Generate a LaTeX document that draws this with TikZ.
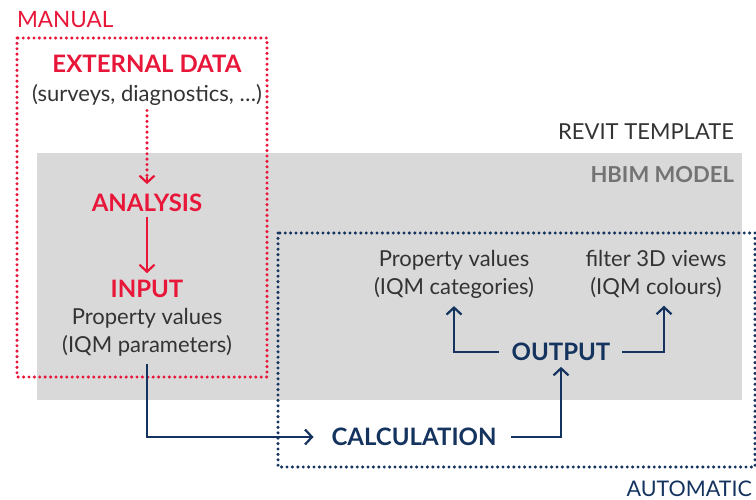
\documentclass[tikz,border=0pt]{standalone}
\usepackage{fontspec}
\setmainfont{Lato}
\usetikzlibrary{arrows.meta}
\definecolor{myred}{HTML}{E8173A}
\definecolor{navy}{HTML}{14335E}
\definecolor{panel}{HTML}{D9D9D9}
\definecolor{txt}{HTML}{333333}
\begin{document}
\begin{tikzpicture}[x=1pt,y=-1pt,
  every node/.style={inner sep=0pt, outer sep=0pt},
  lbl/.style={font=\fontsize{22}{28}\selectfont, text=txt, align=center},
  redbold/.style={font=\fontsize{24}{28}\selectfont\bfseries, text=myred},
  navybold/.style={font=\fontsize{24}{28}\selectfont\bfseries, text=navy},
  dotline/.style={line width=3.4pt, line cap=round, dash pattern=on 0pt off 5.4pt},
  tip/.style={-{Straight Barb[length=7pt,width=15pt,line width=2.2pt]}},
  conn/.style={line width=2.3pt}
]
\useasboundingbox (0,0) rectangle (756,500);
% gray panel
\fill[panel] (37,153) rectangle (742,400);
% labels
\node[font=\fontsize{22.5}{28}\selectfont, text=myred, anchor=west] (manual) at (17,20) {MANUAL};
\node[font=\fontsize{22}{28}\selectfont, text=txt, anchor=east] (revit) at (734,132) {REVIT TEMPLATE};
\node[font=\fontsize{22}{28}\selectfont\bfseries, text=black!55, anchor=east] (hbim) at (734,175) {HBIM MODEL};
\node[font=\fontsize{21.5}{28}\selectfont, text=navy, anchor=east] (auto) at (752,489) {AUTOMATIC};
% frames
\draw[dotline, myred] (17,38) rectangle (267,377);
\draw[dotline, navy] (278,233) rectangle (755,467);
% manual nodes
\node[redbold] (ext) at (147,64) {EXTERNAL DATA};
\node[lbl] (extsub) at (147,95) {(surveys, diagnostics, \dots)};
\node[redbold] (analysis) at (147,203) {ANALYSIS};
\node[redbold] (input) at (147,289) {INPUT};
\node[lbl] (inputsub) at (147,332) {Property values\\(IQM parameters)};
% automatic nodes
\node[lbl] (cat) at (454,274) {Property values\\(IQM categories)};
\node[lbl] (col) at (656,274) {filter 3D views\\(IQM colours)};
\node[navybold] (output) at (561,352) {OUTPUT};
\node[navybold] (calc) at (414,437) {CALCULATION};
% connectors
\draw[myred, dotline] ([yshift=-5pt]extsub.south) -- ([yshift=12pt]analysis.north);
\draw[myred, tip, line width=2.2pt] ([yshift=17pt]analysis.north) -- ([yshift=10pt]analysis.north);
\draw[myred, conn, tip] ([yshift=-5pt]analysis.south) -- ([yshift=7pt]input.north);
\draw[navy, conn, tip] ([yshift=-8pt]inputsub.south) |- ([xshift=-18pt]calc.west);
\draw[navy, conn, tip] ([xshift=15pt]calc.east) -| ([yshift=-6pt]output.south);
\draw[navy, conn, tip] ([xshift=-13pt]output.west) -| ([yshift=-8pt]cat.south);
\draw[navy, conn, tip] ([xshift=12pt]output.east) -| ([xshift=8pt, yshift=-8pt]col.south);
\end{tikzpicture}
\end{document}
